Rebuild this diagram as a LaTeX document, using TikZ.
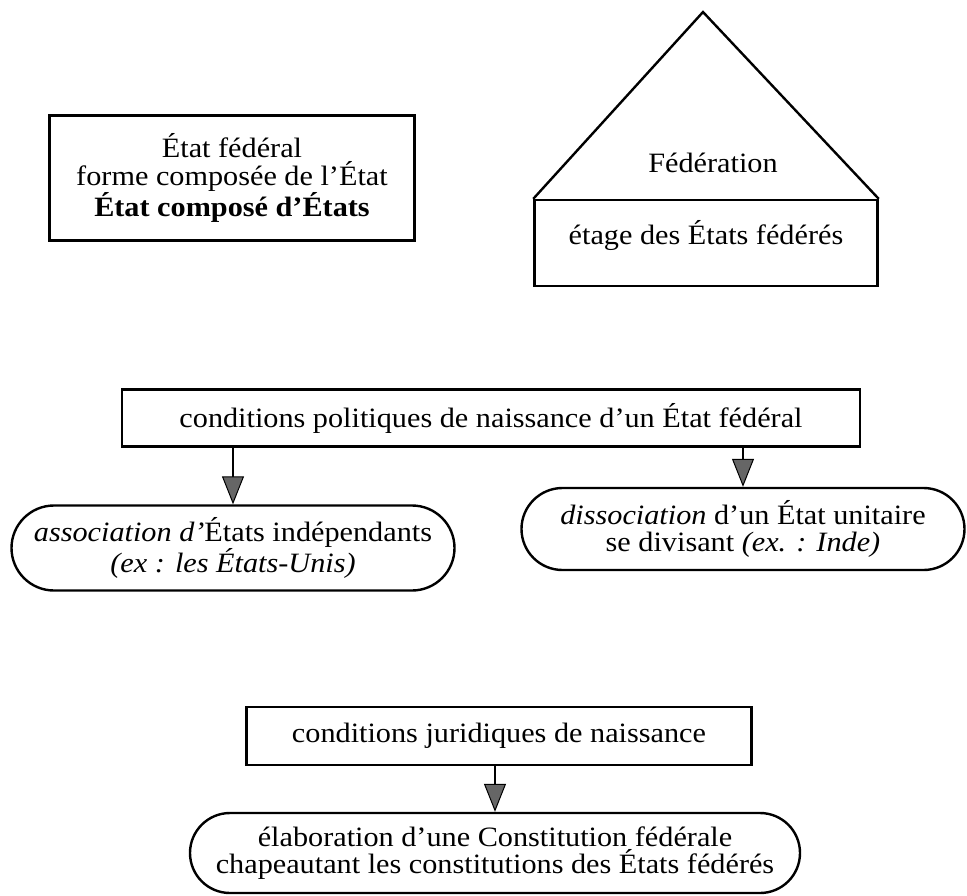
\documentclass[tikz,border=0pt]{standalone}
\usepackage{fontspec}
\setmainfont{Liberation Serif}[FakeStretch=1.08]
\usepackage{tikz}
\usetikzlibrary{shapes.misc, arrows.meta, positioning}

\begin{document}
\begin{tikzpicture}[x=1pt, y=-1pt, font=\fontsize{28}{27.5}\selectfont]
	% Define styles for the blocks and arrows
	\tikzstyle{block} = [rectangle, draw, line width=2.4pt, align=center, inner sep=0pt]
	\tikzstyle{pill} = [rounded rectangle, draw, line width=2.4pt, align=center, inner sep=0pt]
	\tikzstyle{arrow} = [line width=1.8pt, -{Triangle[width=22pt, length=28pt, fill=black!60, line width=1pt]}]

	\useasboundingbox (0,0) rectangle (967,895);

	% Define the nodes (blocks)
	\node (etat) [block, minimum width=365pt, minimum height=125pt] at (232,178) {État fédéral\\forme composée de l’État\\\textbf{État composé d’États}};
	\node (etage) [block, minimum width=343pt, minimum height=86pt, text depth=22pt] at (706,243) {étage des États fédérés};
	\coordinate (apex) at (703,12);
	\node (federation) at (713,163) {Fédération};

	\node (politiques) [block, minimum width=738pt, minimum height=57pt] at (491,418) {conditions politiques de naissance d’un État fédéral};
	\node (asso) [pill, minimum width=443pt, minimum height=85pt] at (233,548) {\textit{association d’}États indépendants\\\textit{(ex : les États-Unis)}};
	\node (disso) [pill, minimum width=443pt, minimum height=82pt] at (743,529) {\textit{dissociation} d’un État unitaire\\se divisant \textit{(ex. : Inde)}};

	\node (juridiques) [block, minimum width=505pt, minimum height=58pt] at (499,736) {conditions juridiques de naissance};
	\node (elabo) [pill, minimum width=610pt, minimum height=80pt] at (495,853) {élaboration d’une Constitution fédérale\\chapeautant les constitutions des États fédérés};

	% Roof of the house
	\draw [line width=2.4pt, line join=miter] (etage.north west) -- (apex) -- (etage.north east);

	% Draw arrows between the blocks
	\draw [arrow] (asso.north |- politiques.south) -- (asso.north);
	\draw [arrow] (disso.north |- politiques.south) -- (disso.north);
	\draw [arrow] (elabo.north |- juridiques.south) -- (elabo.north);
\end{tikzpicture}
\end{document}
